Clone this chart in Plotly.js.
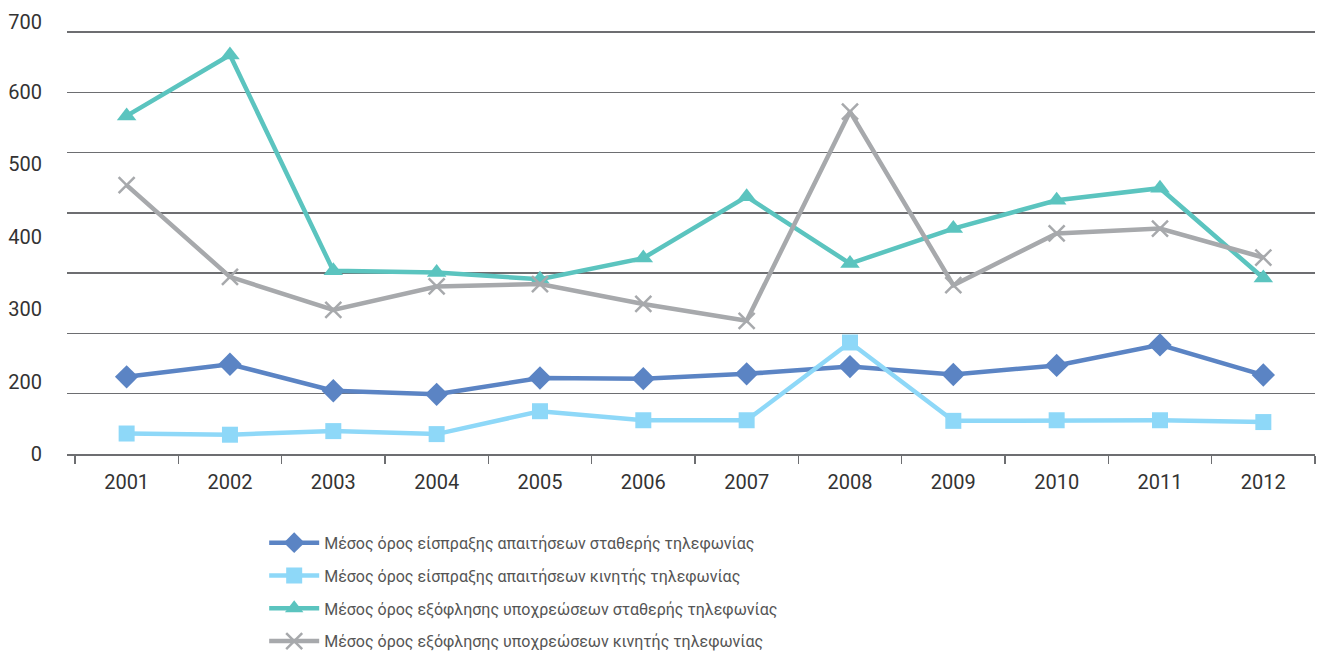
<!DOCTYPE html>
<html>
<head>
<meta charset="utf-8">
<script src="https://cdn.plot.ly/plotly-3.0.1.min.js"></script>
<style>html,body{margin:0;padding:0;background:#fff;}#chart{width:1323px;height:654px;}</style>
</head>
<body>
<div id="chart"></div>
<script>
const years = ['2001','2002','2003','2004','2005','2006','2007','2008','2009','2010','2011','2012'];
const collectFixed = [128,149,105,99,126,125,133,145,132,147,181,131];
const collectMobile = [34,32,38,33,71,56,56,185,55,56,56,53];
const payFixed = [561,662,304,301,290,325,427,316,374,421,441,292];
const payMobile = [446,294,239,278,282,249,221,568,280,366,374,326];
const names = [
  'Μέσος όρος είσπραξης απαιτήσεων σταθερής τηλεφωνίας',
  'Μέσος όρος είσπραξης απαιτήσεων κινητής τηλεφωνίας',
  'Μέσος όρος εξόφλησης υποχρεώσεων σταθερής τηλεφωνίας',
  'Μέσος όρος εξόφλησης υποχρεώσεων κινητής τηλεφωνίας'
];
const yTickVals = [0,119,240,360,481,600,716];
const yTickText = ['0','200','300','400','500','600','700'];

const FONT = 'Roboto, "Open Sans", sans-serif';
const yRange = [0, 740];

const traces = [
  {x: years, y: collectFixed, name: names[0], yaxis: 'y', legendgroup: 'a',
   mode: 'lines+markers', line: {color: '#5B84C4', width: 4.5},
   marker: {symbol: 'diamond', size: 18, color: '#5B84C4'}},
  {x: years, y: collectMobile, name: names[1], yaxis: 'y', legendgroup: 'b',
   mode: 'lines+markers', line: {color: '#8ED8F8', width: 4.5},
   marker: {symbol: 'square', size: 16, color: '#8ED8F8'}},
  {x: years, y: payFixed, name: names[2], yaxis: 'y2', legendgroup: 'c',
   mode: 'lines+markers', line: {color: '#5BC4BF', width: 4.5},
   marker: {symbol: 'triangle-up', size: 17, color: '#5BC4BF'}},
  {x: years, y: payMobile, name: names[3], yaxis: 'y2', legendgroup: 'd',
   mode: 'lines+markers', line: {color: '#A7A9AC', width: 4.5},
   marker: {symbol: 'x-thin-open', size: 16, color: '#A7A9AC', line: {width: 2.5, color: '#A7A9AC'}}}
];

const layout = {
  width: 1323, height: 654,
  margin: {l: 67, r: 8, t: 8, b: 200, autoexpand: false},
  paper_bgcolor: '#fff', plot_bgcolor: '#fff',
  font: {family: FONT, color: '#333'},
  showlegend: true,
  legend: {x: 0.158, xanchor: 'left', xref: 'paper', yref: 'container', y: 0.196, yanchor: 'top', orientation: 'v',
           font: {family: FONT, size: 16, color: '#555'}, tracegroupgap: 9, itemwidth: 50,
           bgcolor: 'rgba(0,0,0,0)'},
  xaxis: {type: 'category', range: [-0.577, 11.5], tickson: 'boundaries',
          ticks: 'outside', ticklen: 8, tickwidth: 1.5, tickcolor: '#6D6E71',
          showline: true, linecolor: '#6D6E71', linewidth: 1.5,
          showgrid: false, zeroline: false, ticklabelstandoff: 9,
          tickfont: {family: FONT, size: 20, color: '#333'}},
  yaxis: {range: yRange, tickmode: 'linear', tick0: 0, dtick: 100,
          showgrid: true, gridcolor: '#6D6E71', gridwidth: 1.5,
          showticklabels: false, zeroline: false, showline: false, ticks: ''},
  yaxis2: {range: yRange, overlaying: 'y', side: 'left', tickmode: 'array',
           tickvals: yTickVals, ticktext: yTickText, showgrid: false, zeroline: false,
           showline: false, ticks: 'outside', ticklen: 20, tickcolor: 'rgba(0,0,0,0)',
           tickfont: {family: FONT, size: 20, color: '#333'}}
};

Plotly.newPlot('chart', traces, layout, {displayModeBar: false, staticPlot: true});
</script>
</body>
</html>
